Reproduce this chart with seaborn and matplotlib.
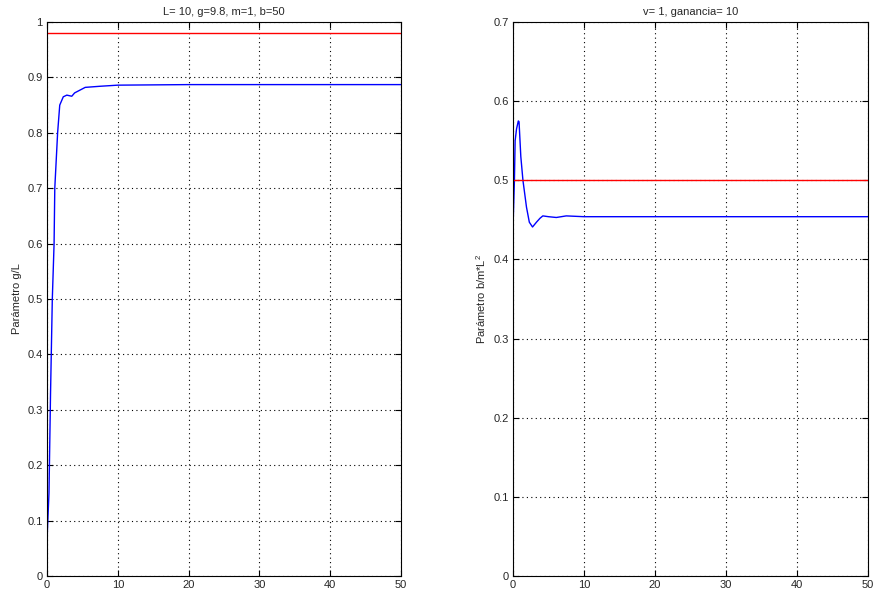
import matplotlib
matplotlib.use("Agg")
import matplotlib.pyplot as plt
import seaborn as sns
import pandas as pd

# Left panel data
t_left = [0, 0.05, 0.28, 0.5, 0.75, 1.0, 1.1, 1.5, 1.8, 2.3, 2.8, 3.5, 3.9, 5.4, 7.5, 10, 20, 30, 40, 50]
y_left = [0.02, 0.08, 0.15, 0.33, 0.5, 0.6, 0.7, 0.8, 0.85, 0.865, 0.868, 0.866, 0.872, 0.882, 0.884, 0.886, 0.887, 0.887, 0.887, 0.887]
ref_left = 0.98

# Right panel data
t_right = [0, 0.01, 0.2, 0.3, 0.5, 0.75, 0.85, 1.1, 1.4, 1.9, 2.3, 2.75, 3.3, 3.8, 4.2, 5.0, 6.1, 7.5, 10, 20, 30, 40, 50]
y_right = [0.308, 0.443, 0.50, 0.55, 0.565, 0.575, 0.574, 0.53, 0.50, 0.466, 0.447, 0.441, 0.447, 0.452, 0.455, 0.454, 0.453, 0.455, 0.454, 0.454, 0.454, 0.454, 0.454]
ref_right = 0.5

titles = ["L= 10, g=9.8, m=1, b=50", "v= 1, ganancia= 10"]
ylabels = ["Parámetro g/L", "Parámetro b/m*L$^2$"]

sns.set_style("white")
plt.rcParams['font.family'] = ['Liberation Sans', 'DejaVu Sans']
plt.rcParams['mathtext.fontset'] = 'custom'
plt.rcParams['mathtext.rm'] = 'Liberation Sans'

fig = plt.figure(figsize=(8.76, 5.92), dpi=100)
ax1 = fig.add_axes([47/876, 16/592, 354/876, 554/592])
ax2 = fig.add_axes([513/876, 16/592, 355/876, 554/592])

panels = [
    (ax1, t_left, y_left, ref_left, (0, 1), [0, 0.1, 0.2, 0.3, 0.4, 0.5, 0.6, 0.7, 0.8, 0.9, 1]),
    (ax2, t_right, y_right, ref_right, (0, 0.7), [0, 0.1, 0.2, 0.3, 0.4, 0.5, 0.6, 0.7]),
]

for i, (ax, t, y, ref, ylim, yt) in enumerate(panels):
    df = pd.DataFrame({"t": t, "y": y})
    sns.lineplot(data=df, x="t", y="y", ax=ax, color="#0000ff", linewidth=1.0)
    dref = pd.DataFrame({"t": [0, 50], "y": [ref, ref]})
    sns.lineplot(data=dref, x="t", y="y", ax=ax, color="#ff0000", linewidth=1.0)
    ax.set_xlim(0, 50)
    ax.set_ylim(*ylim)
    ax.set_xticks([0, 10, 20, 30, 40, 50])
    ax.set_yticks(yt)
    ax.set_yticklabels([("%g" % v) for v in yt])
    ax.set_xlabel("")
    ax.set_ylabel(ylabels[i], fontsize=8, labelpad=4)
    ax.set_title(titles[i], fontsize=8, pad=5)
    ax.grid(True, color="black", linestyle=(0, (1, 3)), linewidth=0.8)
    ax.tick_params(direction="in", length=4, labelsize=8, top=True, right=True,
                   bottom=True, left=True, width=0.8, color="black", pad=3)
    for s in ax.spines.values():
        s.set_color("black")
        s.set_linewidth(0.8)

fig.savefig("out.png", dpi=100)
